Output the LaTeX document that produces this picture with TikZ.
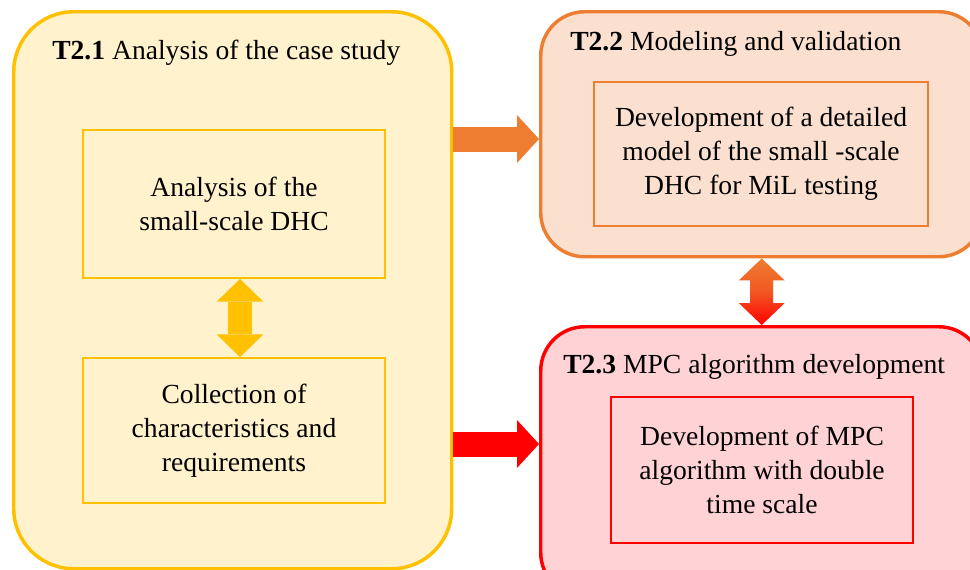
\documentclass[tikz,border=0pt]{standalone}
\usepackage{fontspec}
\setmainfont{Liberation Serif}
\usetikzlibrary{arrows.meta,calc}
\definecolor{yline}{HTML}{FFC000}
\definecolor{yfill}{HTML}{FFF2CC}
\definecolor{oline}{HTML}{ED7D31}
\definecolor{ofill}{HTML}{FBE0D0}
\definecolor{rline}{HTML}{FF0000}
\definecolor{rfill}{HTML}{FFD3D6}
\tikzset{
  task/.style={draw, line width=2.6pt, anchor=north west, inner sep=0pt},
  sub/.style={draw, line width=1.5pt, anchor=north west, inner sep=0pt,
    align=center, font=\fontsize{20.7}{25.5}\selectfont},
  ttl/.style={anchor=base west, inner sep=0pt, font=\fontsize{20.7}{25.5}\selectfont},
  fat/.style={line width=18.75pt, -{Triangle[length=16.5pt,width=36pt,line width=0pt]}},
  twin/.style={line width=18pt,
    {Triangle[length=17pt,width=35pt,line width=0pt]}-{Triangle[length=17pt,width=35pt,line width=0pt]}}
}
\begin{document}
\begin{tikzpicture}[x=0.75pt,y=-0.75pt]
  \useasboundingbox (0,0) rectangle (970,569);
  \clip (0,0) rectangle (970,569);
  % task boxes
  \node[task, draw=yline, fill=yfill, rounded corners=45pt,
    minimum width=328.5pt, minimum height=417.75pt] (t21) at (12,10) {};
  \node[task, draw=oline, fill=ofill, rounded corners=33pt,
    minimum width=331.5pt, minimum height=183.75pt] (t22) at (539,10) {};
  \node[task, draw=rline, fill=rfill, rounded corners=33pt,
    minimum width=331.5pt, minimum height=202.5pt] (t23) at (539,325) {};
  % titles
  \node[ttl] (h21) at (52,59) {\textbf{T2.1} Analysis of the case study};
  \node[ttl] (h22) at (570,50) {\textbf{T2.2} Modeling and validation};
  \node[ttl] (h23) at (563,373) {\textbf{T2.3} MPC algorithm development};
  % sub tasks
  \node[sub, draw=yline, minimum width=226.5pt, minimum height=111pt] (s1) at (82,129)
    {Analysis of the\\small-scale DHC};
  \node[sub, draw=yline, minimum width=226.5pt, minimum height=108.75pt] (s2) at (82,357)
    {Collection of\\characteristics and\\requirements};
  \node[sub, draw=oline, minimum width=250.5pt, minimum height=108pt] (s3) at (593,81)
    {Development of a detailed\\model of the small -scale\\DHC for MiL testing};
  \node[sub, draw=rline, minimum width=226.5pt, minimum height=109.5pt] (s4) at (610,396)
    {Development of MPC\\algorithm with double\\time scale};
  % arrows
  \draw[fat, oline] (t21.east |- 0,139) -- (t22.west |- 0,139);
  \draw[fat, rline] (t21.east |- 0,444) -- (t23.west |- 0,444);
  \draw[twin, yline] ([xshift=4.5pt]s1.south) -- ([xshift=4.5pt]s2.north);
  \shade[top color=oline, bottom color=rline, middle color=oline!70!rline]
    (t22.south) -- ++(23,22) -- ++(-11.5,0) -- ($(t23.north)+(11.5,-22)$)
    -- ++(11.5,0) -- (t23.north) -- ++(-23,-22) -- ++(11.5,0)
    -- ($(t22.south)+(-11.5,22)$) -- ++(-11.5,0) -- cycle;
\end{tikzpicture}
\end{document}
